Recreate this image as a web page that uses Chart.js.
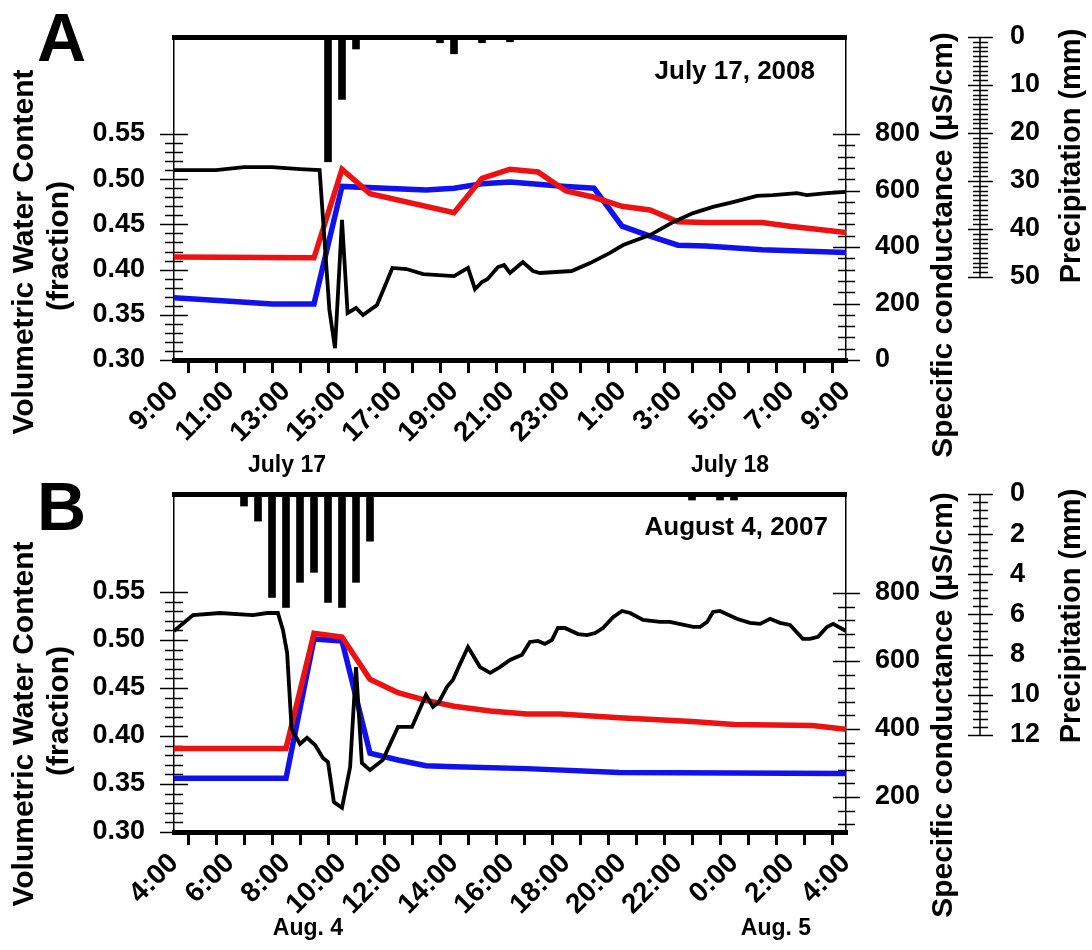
<!DOCTYPE html>
<html>
<head>
<meta charset="utf-8">
<script src="https://cdn.jsdelivr.net/npm/chart.js@4.4.1/dist/chart.umd.min.js"></script>
<style>
  body { margin: 0; background: #fff; }
  #wrap { position: relative; width: 1092px; height: 950px; overflow: hidden; }
  canvas { position: absolute; left: 0; }
</style>
</head>
<body>
<div id="wrap">
  <canvas id="chartA" width="1092" height="490" style="top:0"></canvas>
  <canvas id="chartB" width="1092" height="475" style="top:475px"></canvas>
</div>
<script>
// ---- Panel A : July 17, 2008 (hours after 9:00) ----
const xLabelsA = ['9:00', '11:00', '13:00', '15:00', '17:00', '19:00', '21:00', '23:00', '1:00', '3:00', '5:00', '7:00', '9:00'];
const precipA_t = [5.5, 6.0, 6.5, 9.5, 10.0, 11.0, 12.0];
const precipA_v = [26, 13, 2.5, 1.2, 3.5, 1.2, 1.0];
const redA_t = [0, 5.0, 6.0, 7.0, 10.0, 11.0, 12.0, 13.0, 14.0, 15.0, 16.0, 17.0, 18.0, 19.0, 21.0, 22.0, 24.0];
const redA_v = [0.414, 0.413, 0.511, 0.484, 0.463, 0.501, 0.511, 0.508, 0.487, 0.480, 0.470, 0.466, 0.453, 0.452, 0.452, 0.448, 0.441];
const blueA_t = [0, 2.0, 3.5, 5.0, 6.0, 9.0, 10.0, 11.0, 12.0, 14.0, 15.0, 16.0, 17.0, 18.0, 19.0, 21.0, 24.0];
const blueA_v = [0.369, 0.365, 0.362, 0.362, 0.492, 0.488, 0.490, 0.495, 0.497, 0.492, 0.490, 0.448, 0.437, 0.427, 0.426, 0.422, 0.419];
const condA_t = [0, 1.5, 2.5, 3.5, 4.5, 5.2, 5.55, 5.75, 6.0, 6.2, 6.5, 6.75, 7.25, 7.8, 8.3, 8.9, 10.0, 10.5, 10.75, 11.0,
  11.2, 11.57, 11.79, 12.0, 12.25, 12.46, 12.82, 13.07, 14.2, 14.86, 15.57, 16.04, 17.0, 17.82, 18.54, 19.25, 19.96, 20.82, 21.39, 22.25,
  22.6, 23.32, 24];
const condA_v = [672, 672, 683, 683, 676, 672, 177, 42, 496, 166, 184, 159, 195, 326, 322, 304, 297, 326, 251, 276,
  287, 329, 336, 308, 329, 347, 315, 308, 315, 343, 379, 407, 442, 488, 520, 542, 559, 581, 584, 591,
  584, 591, 595];

// ---- Panel B : August 4, 2007 (hours after 4:00) ----
const xLabelsB = ['4:00', '6:00', '8:00', '10:00', '12:00', '14:00', '16:00', '18:00', '20:00', '22:00', '0:00', '2:00', '4:00'];
const precipB_t = [2.5, 3.0, 3.5, 4.0, 4.5, 5.0, 5.5, 6.0, 6.5, 7.0, 18.5, 19.5, 20.0];
const precipB_v = [0.6, 1.35, 5.15, 5.65, 4.4, 3.9, 5.4, 5.65, 4.4, 2.35, 0.3, 0.3, 0.3];
const redB_t = [0, 4.0, 5.0, 6.0, 7.0, 8.0, 9.0, 10.0, 11.3, 12.6, 13.8, 15.9, 18.5, 20.0, 22.8, 24];
const redB_v = [0.387, 0.387, 0.507, 0.503, 0.459, 0.445, 0.437, 0.431, 0.426, 0.423, 0.423, 0.419, 0.415, 0.412, 0.411, 0.407];
const blueB_t = [0, 4.0, 5.0, 6.0, 7.0, 8.0, 9.0, 10.0, 12.6, 15.9, 24];
const blueB_v = [0.356, 0.356, 0.501, 0.499, 0.382, 0.375, 0.369, 0.368, 0.366, 0.362, 0.361];
const condB_t = [0, 0.68, 1.64, 2.82, 3.32, 3.71, 3.89, 4.04, 4.2, 4.5, 4.75, 5.04, 5.32, 5.5, 5.71, 6.0, 6.29, 6.5, 6.71, 7.0,
  7.46, 8.0, 8.5, 9.0, 9.25, 9.46, 9.75, 9.96, 10.21, 10.5, 10.93, 11.29, 11.64, 12.0, 12.43, 12.71, 13.0, 13.25, 13.5, 13.71,
  13.96, 14.43, 14.75, 15.04, 15.32, 15.68, 16.0, 16.29, 16.75, 17.36, 17.71, 18.54, 18.79, 19.04, 19.25, 19.5, 20.1, 20.57, 20.93, 21.29,
  21.64, 22.0, 22.46, 22.71, 23.0, 23.32, 23.54, 24];
const condB_v = [688, 735, 741, 735, 741, 741, 691, 624, 400, 356, 374, 353, 315, 303, 185, 168, 288, 582, 300, 279,
  309, 406, 406, 500, 465, 479, 524, 544, 590, 641, 582, 565, 582, 603, 618, 656, 659, 650, 662, 697,
  697, 679, 676, 682, 697, 729, 747, 741, 721, 715, 715, 700, 700, 715, 744, 747, 724, 712, 709, 724,
  712, 706, 665, 665, 671, 700, 709, 688];

// axis ticks
const vwcTicks = [0.30, 0.35, 0.40, 0.45, 0.50, 0.55];
const condTicksA = [0, 200, 400, 600, 800];
const condTicksB = [200, 400, 600, 800];
const precipTicksA = [0, 10, 20, 30, 40, 50];
const precipTicksB = [0, 2, 4, 6, 8, 10, 12];

const FONT = '"Liberation Sans", Arial, Helvetica, sans-serif';

function pts(t, v) {
  return t.map((x, i) => ({ x: x, y: v[i] }));
}
function steps(from, to, step, skip) {
  const out = [];
  for (let v = from; v <= to + 1e-9; v += step) {
    const r = Math.round(v * 1000) / 1000;
    if (!skip.some(s => Math.abs(s - r) < 1e-6)) out.push(r);
  }
  return out;
}

// tick marks that cross the axis line
const crossTicks = {
  id: 'crossTicks',
  beforeDatasetsDraw(chart, args, o) {
    const ctx = chart.ctx;
    const area = chart.chartArea;
    ctx.save();
    ctx.strokeStyle = '#000';
    for (const ax of o.axes) {
      const s = chart.scales[ax.id];
      const x0 = ax.side === 'left' ? area.left : ax.side === 'right' ? area.right : s.left;
      const dir = ax.side === 'left' ? -1 : 1;
      ctx.lineWidth = ax.lw;
      const mark = (v, len) => {
        const y = Math.round(s.getPixelForValue(v)) + 0.5;
        ctx.beginPath();
        ctx.moveTo(x0 - dir * len[0], y);
        ctx.lineTo(x0 + dir * len[1], y);
        ctx.stroke();
      };
      ax.minor.forEach(v => mark(v, ax.minLen));
      ax.major.forEach(v => mark(v, ax.majLen));
      if (ax.line) {
        ctx.beginPath();
        ctx.moveTo(x0, s.getPixelForValue(ax.line[0]));
        ctx.lineTo(x0, s.getPixelForValue(ax.line[1]));
        ctx.stroke();
      }
    }
    ctx.restore();
  }
};

// extra texts : panel letter, date, day names, axis titles
const texts = {
  id: 'texts',
  afterDraw(chart, args, o) {
    const ctx = chart.ctx;
    for (const t of o.items) {
      ctx.save();
      ctx.translate(t.x, t.y);
      if (t.rot) ctx.rotate(t.rot * Math.PI / 180);
      ctx.font = 'bold ' + t.size + 'px ' + FONT;
      ctx.fillStyle = '#000';
      ctx.textAlign = t.align || 'center';
      ctx.textBaseline = t.base || 'middle';
      ctx.fillText(t.text, 0, 0);
      ctx.restore();
    }
  }
};

// hidden grid, label distance taken from tickLength (keeps the layout padding small)
function yGrid(dist) {
  return { display: false, drawTicks: true, tickLength: dist, color: 'rgba(0,0,0,0)' };
}

function makePanel(canvasId, p) {
  const ctx = document.getElementById(canvasId).getContext('2d');
  const tickFont = { family: FONT, size: 27, weight: 'bold' };
  const xFont = { family: FONT, size: 28, weight: 'bold' };
  return new Chart(ctx, {
    type: 'line',
    data: {
      datasets: [
        { label: 'conductance', data: p.cond, yAxisID: 'yC', borderColor: '#000', borderWidth: 3.8, pointRadius: 0 },
        { label: 'VWC 1', data: p.red, yAxisID: 'y', borderColor: '#ee1111', borderWidth: 5.5, pointRadius: 0 },
        { label: 'VWC 2', data: p.blue, yAxisID: 'y', borderColor: '#1111ee', borderWidth: 5.5, pointRadius: 0 },
        { type: 'bar', label: 'precipitation', data: p.precip, yAxisID: 'yP', backgroundColor: '#000', barThickness: 7 }
      ]
    },
    options: {
      responsive: false,
      animation: false,
      devicePixelRatio: 1,
      layout: { padding: 0 },
      plugins: {
        legend: { display: false },
        tooltip: { enabled: false },
        crossTicks: {
          axes: [
            { id: 'y', side: 'left', lw: 1.5, major: vwcTicks, minor: steps(0.30, 0.55, 0.01, vwcTicks), majLen: [14, 14], minLen: [9, 9] },
            { id: 'yC', side: 'right', lw: 1.5, major: p.condTicks, minor: steps(p.condMinorFrom, 800, 40, p.condTicks), majLen: [13, 14], minLen: [8, 9] },
            { id: 'yP', side: 'axis', lw: 1.5, major: p.precipTicks, minor: steps(0, p.precipTicks[p.precipTicks.length - 1], p.precipMinor, p.precipTicks), majLen: [12, 13], minLen: [7, 8], line: [0, p.precipTicks[p.precipTicks.length - 1]] }
          ]
        },
        texts: { items: p.texts }
      },
      scales: {
        x: {
          type: 'linear', position: 'bottom', min: 0, max: 24, offset: false,
          afterBuildTicks: s => { s.ticks = steps(0, 24, 1, []).map(v => ({ value: v })); },
          ticks: {
            autoSkip: false, maxRotation: 45, minRotation: 45, padding: 2,
            color: '#000', font: xFont,
            callback: v => (v % 2 === 0 ? p.xLabels[v / 2] : '')
          },
          grid: { drawOnChartArea: false, drawTicks: true, tickLength: 13, lineWidth: 3, color: '#000' },
          border: { width: 5, color: '#000' },
          afterFit: s => { s.height = p.bottomH; }
        },
        xTop: {
          type: 'linear', position: 'top', min: 0, max: 24, offset: false,
          ticks: { display: false },
          grid: { display: false, drawTicks: false },
          border: { width: 5, color: '#000' },
          afterFit: s => { s.height = p.top; }
        },
        y: {
          type: 'linear', position: 'left', min: 0.30, max: p.vwcMax,
          afterBuildTicks: s => { s.ticks = vwcTicks.map(v => ({ value: v })); },
          ticks: { padding: 0, color: '#000', font: tickFont, callback: v => v.toFixed(2) },
          grid: yGrid(29),
          border: { width: 1.5, color: '#000' },
          afterFit: s => { s.width = 174; }
        },
        yC: {
          type: 'linear', position: 'right', min: p.condMin, max: p.condMax,
          afterBuildTicks: s => { s.ticks = p.condTicks.map(v => ({ value: v })); },
          ticks: { padding: 0, color: '#000', font: tickFont },
          grid: yGrid(29),
          border: { width: 1.5, color: '#000' },
          afterFit: s => { s.width = 134; }
        },
        yP: {
          type: 'linear', position: 'right', reverse: true, min: 0, max: p.precipMax,
          afterBuildTicks: s => { s.ticks = p.precipTicks.map(v => ({ value: v })); },
          ticks: { padding: 0, color: '#000', font: tickFont },
          grid: yGrid(30),
          border: { display: false },
          afterFit: s => { s.width = 112; }
        }
      }
    },
    plugins: [crossTicks, texts]
  });
}

makePanel('chartA', {
  top: 37, bottomH: 130,
  vwcMax: 0.6573, condMin: 0, condMax: 1143.4, precipMax: 67.3,
  condTicks: condTicksA, condMinorFrom: 0, precipTicks: precipTicksA, precipMinor: 1,
  xLabels: xLabelsA,
  cond: pts(condA_t, condA_v), red: pts(redA_t, redA_v), blue: pts(blueA_t, blueA_v), precip: pts(precipA_t, precipA_v),
  texts: [
    { text: 'A', x: 37, y: 61, size: 68, align: 'left', base: 'alphabetic' },
    { text: 'July 17, 2008', x: 815, y: 79, size: 26, align: 'right', base: 'alphabetic' },
    { text: 'July 17', x: 287, y: 466, size: 23 },
    { text: 'July 18', x: 730, y: 466, size: 23 },
    { text: 'Volumetric Water Content', x: 25, y: 252, size: 30, rot: -90 },
    { text: '(fraction)', x: 60, y: 246, size: 30, rot: -90 },
    { text: 'Specific conductance (\u00b5S/cm)', x: 944, y: 245, size: 30, rot: -90 },
    { text: 'Precipitation (mm)', x: 1072, y: 156, size: 29, rot: -90 }
  ]
});

makePanel('chartB', {
  top: 19, bottomH: 118,
  vwcMax: 0.652, condMin: 97, condMax: 1091, precipMax: 16.83,
  condTicks: condTicksB, condMinorFrom: 120, precipTicks: precipTicksB, precipMinor: 0.4,
  xLabels: xLabelsB,
  cond: pts(condB_t, condB_v), red: pts(redB_t, redB_v), blue: pts(blueB_t, blueB_v), precip: pts(precipB_t, precipB_v),
  texts: [
    { text: 'B', x: 37, y: 55, size: 68, align: 'left', base: 'alphabetic' },
    { text: 'August 4, 2007', x: 828, y: 60, size: 26, align: 'right', base: 'alphabetic' },
    { text: 'Aug. 4', x: 308, y: 454, size: 23 },
    { text: 'Aug. 5', x: 776, y: 454, size: 23 },
    { text: 'Volumetric Water Content', x: 25, y: 249, size: 30, rot: -90 },
    { text: '(fraction)', x: 60, y: 236, size: 30, rot: -90 },
    { text: 'Specific conductance (\u00b5S/cm)', x: 944, y: 230, size: 30, rot: -90 },
    { text: 'Precipitation (mm)', x: 1072, y: 141, size: 29, rot: -90 }
  ]
});
</script>
</body>
</html>
